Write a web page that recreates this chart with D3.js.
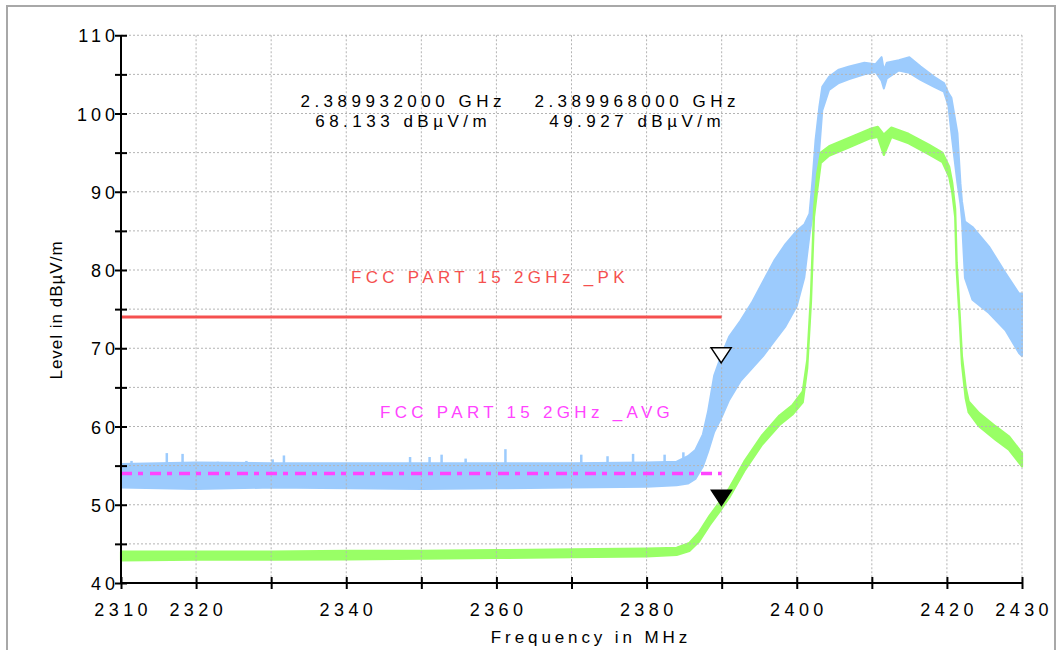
<!DOCTYPE html>
<html>
<head>
<meta charset="utf-8">
<script src="https://cdn.jsdelivr.net/npm/d3@7"></script>
<style>
  body { margin: 0; background: #fff; }
  text { font-family: "Liberation Sans", Arial, sans-serif; }
</style>
</head>
<body>
<div id="canvas"></div>
<script>
"use strict"

/* ---------- data ---------- */
// peak trace (blue) drawn as its noise envelope
let blueFreq = [2310, 2320, 2330, 2340, 2350, 2360, 2370, 2380, 2384, 2385.5,
  2386.5, 2387.5, 2388.2, 2389, 2390, 2391, 2392.5, 2394, 2395.5, 2397,
  2398.5, 2400, 2401, 2401.7, 2402.1, 2402.5, 2403, 2403.4, 2404.3, 2405.6,
  2407, 2409, 2410.5, 2411.3, 2411.6, 2412, 2413.6, 2415, 2416.5, 2418.3,
  2419.6, 2420.2, 2420.6, 2421.4, 2421.8, 2422, 2422.4, 2423.4, 2425.6, 2427.8,
  2429.6, 2430];
let blueHi = [55.2, 55.4, 55.3, 55.3, 55.3, 55.3, 55.3, 55.4, 55.5, 56.2,
  57.0, 59.0, 62.0, 66.5, 69.2, 71.5, 73.5, 75.8, 78.5, 81.2,
  83.3, 85.0, 85.8, 87.2, 91.5, 96.6, 100.8, 103.4, 104.7, 105.6,
  106.0, 106.5, 106.3, 107.2, 105.5, 106.5, 106.8, 107.2, 106.0, 104.7,
  103.9, 102.6, 102.0, 97.5, 91.1, 88.8, 86.2, 85.5, 83.0, 79.6,
  77.0, 77.0];
let blueLo = [52.2, 52.0, 52.2, 52.1, 52.0, 52.1, 52.2, 52.3, 52.5, 52.7,
  53.3, 54.9, 56.8, 59.3, 61.2, 63.4, 65.8, 67.4, 69.0, 70.9,
  72.8, 75.4, 79.0, 84.5, 87.0, 90.2, 95.3, 100.4, 103.0, 103.9,
  104.4, 105.0, 105.3, 104.2, 103.2, 104.5, 105.5, 105.2, 104.3, 103.4,
  102.8, 101.0, 97.5, 91.1, 88.5, 86.4, 79.0, 76.2, 74.5, 72.3,
  69.4, 69.0];

// single noise spikes above the blue floor
let spikeFreq = [2311.4, 2316.1, 2318.2, 2322.9, 2326.7, 2330.2, 2331.7, 2348.5, 2351.1, 2352.7,
  2355.9, 2361.2, 2371.3, 2374.8, 2378.2, 2382.4, 2384.9];
let spikeTop = [55.6, 56.6, 56.5, 55.5, 55.6, 55.8, 56.3, 56.1, 56.1, 56.4,
  55.9, 57.1, 56.4, 56.2, 56.5, 56.4, 56.7];

// average trace (green)
let greenFreq = [2310, 2320, 2330, 2340, 2350, 2360, 2370, 2380, 2384, 2385.7,
  2387, 2388.4, 2389.7, 2391, 2393, 2395.4, 2397.7, 2399.4, 2400.8, 2401.4,
  2401.9, 2402.3, 2402.7, 2403.2, 2404.3, 2407, 2409.7, 2410.8, 2411.6, 2412.6,
  2414.9, 2417.6, 2419.4, 2420.3, 2420.7, 2421.1, 2421.3, 2421.7, 2422.0, 2422.5,
  2422.9, 2424.3, 2426.5, 2428.3, 2430];
let greenLo = [42.9, 43.0, 43.0, 43.0, 43.1, 43.2, 43.3, 43.4, 43.6, 44.1,
  45.3, 47.4, 49.1, 50.9, 54.3, 57.7, 60.2, 61.5, 63.1, 67.5,
  76.0, 86.8, 90.0, 93.7, 94.6, 95.7, 96.8, 97.0, 94.7, 97.0,
  96.2, 94.8, 93.8, 91.9, 90.0, 86.8, 80.0, 73.6, 68.0, 63.6,
  61.8, 60.0, 58.3, 57.0, 54.9];
let greenHi = [44.0, 44.0, 44.0, 44.1, 44.1, 44.2, 44.3, 44.4, 44.5, 45.1,
  46.5, 48.6, 50.3, 52.1, 55.5, 58.9, 61.4, 62.7, 64.5, 68.5,
  77.0, 87.8, 92.2, 95.0, 95.8, 96.9, 98.0, 98.3, 97.3, 98.2,
  97.4, 96.0, 95.0, 93.2, 91.2, 87.8, 81.0, 74.4, 69.0, 65.0,
  63.2, 61.7, 60.0, 58.7, 56.6];

// limit lines
let limitNames = ["FCC PART 15 2GHz _PK", "FCC PART 15 2GHz _AVG"];
let limitLevels = [74, 54];
let limitRange = [2310, 2390];

// markers
let markerFreq = [2389.932, 2389.968];
let markerLevel = [68.133, 49.927];
let markerFreqText = ["2.389932000 GHz", "2.389968000 GHz"];
let markerLevelText = ["68.133 dBµV/m", "49.927 dBµV/m"];

// axes
let freqTicks = [2310, 2320, 2330, 2340, 2350, 2360, 2370, 2380, 2390, 2400, 2410, 2420, 2430];
let freqLabels = [2310, 2320, 2340, 2360, 2380, 2400, 2420, 2430];
let levelTicks = [40, 45, 50, 55, 60, 65, 70, 75, 80, 85, 90, 95, 100, 105, 110];
let levelLabels = [40, 50, 60, 70, 80, 90, 100, 110];

/* ---------- canvas ---------- */
let drawing = d3.select("#canvas")
  .append("svg")
  .attr("width", 1061)
  .attr("height", 650);

let frame = drawing.append("rect")
  .attr("x", 7).attr("y", 6)
  .attr("width", 1048).attr("height", 660)
  .attr("fill", "none")
  .attr("stroke", "#a8a8a8")
  .attr("stroke-width", 2);

let x = d3.scaleLinear().domain([2310, 2430]).range([121, 1022]);
let y = d3.scaleLinear().domain([40, 110]).range([583, 35.25]);

/* ---------- traces ---------- */
let blueBand = d3.area()
  .x((d, i) => x(blueFreq[i]))
  .y0((d, i) => y(blueLo[i]))
  .y1((d, i) => y(blueHi[i]));

drawing.append("path")
  .attr("d", blueBand(blueFreq))
  .attr("fill", "#9ccbfd")
  .attr("stroke", "#9ccbfd")
  .attr("stroke-width", 2)
  .attr("stroke-linejoin", "round");

drawing.append("g").selectAll("line")
  .data(spikeFreq)
  .join("line")
  .attr("x1", d => x(d)).attr("x2", d => x(d))
  .attr("y1", y(54.5))
  .attr("y2", (d, i) => y(spikeTop[i]))
  .attr("stroke", "#9ccbfd")
  .attr("stroke-width", 2.5);

let greenBand = d3.area()
  .x((d, i) => x(greenFreq[i]))
  .y0((d, i) => y(greenLo[i]))
  .y1((d, i) => y(greenHi[i]));

drawing.append("path")
  .attr("d", greenBand(greenFreq))
  .attr("fill", "#99ff66")
  .attr("stroke", "#99ff66")
  .attr("stroke-width", 2.2)
  .attr("stroke-linejoin", "round");

/* ---------- grid (drawn over the traces, like the original) ---------- */
let grid = drawing.append("g")
  .attr("stroke", "#b4b4b4")
  .attr("stroke-width", 1)
  .attr("stroke-dasharray", "2,2");

grid.selectAll(".vgrid")
  .data(freqTicks.slice(1))
  .join("line")
  .attr("x1", d => x(d)).attr("x2", d => x(d))
  .attr("y1", y(110)).attr("y2", y(40));

grid.selectAll(".hgrid")
  .data(levelTicks.slice(1))
  .join("line")
  .attr("x1", x(2310)).attr("x2", x(2430))
  .attr("y1", d => y(d)).attr("y2", d => y(d));

/* ---------- limit lines ---------- */
let limitColors = ["#f5504f", "#ff44ff"];

drawing.append("line")
  .attr("x1", x(limitRange[0])).attr("x2", x(limitRange[1]))
  .attr("y1", y(limitLevels[0])).attr("y2", y(limitLevels[0]))
  .attr("stroke", limitColors[0])
  .attr("stroke-width", 3);

drawing.append("line")
  .attr("x1", x(limitRange[0])).attr("x2", x(limitRange[1]))
  .attr("y1", y(limitLevels[1])).attr("y2", y(limitLevels[1]))
  .attr("stroke", limitColors[1])
  .attr("stroke-width", 3.5)
  .attr("stroke-dasharray", "11,6,5,7");

drawing.append("text")
  .attr("x", 351).attr("y", 283)
  .attr("font-size", 17)
  .style("letter-spacing", "4.3px")
  .attr("fill", limitColors[0])
  .text(limitNames[0]);

drawing.append("text")
  .attr("x", 380).attr("y", 418)
  .attr("font-size", 17)
  .style("letter-spacing", "4.3px")
  .attr("fill", limitColors[1])
  .text(limitNames[1]);

/* ---------- axes ---------- */
let xAxis = drawing.append("g")
  .attr("transform", "translate(0," + y(40) + ")")
  .call(d3.axisBottom(x).tickValues(freqTicks).tickSize(6).tickFormat(""));
xAxis.select(".domain").attr("stroke", "#000").attr("stroke-width", 2).attr("d", "M" + x(2310) + ",0H" + x(2430));
xAxis.selectAll(".tick line").attr("y1", -6).attr("y2", 6).attr("stroke", "#000").attr("stroke-width", 2);

let yAxis = drawing.append("g")
  .attr("transform", "translate(" + x(2310) + ",0)")
  .call(d3.axisLeft(y).tickValues(levelTicks).tickSize(6).tickFormat(""));
yAxis.select(".domain").attr("stroke", "#000").attr("stroke-width", 2).attr("d", "M0," + y(40) + "V" + y(110));
yAxis.selectAll(".tick line").attr("x1", -6).attr("x2", 6).attr("stroke", "#000").attr("stroke-width", 2);

drawing.append("g").selectAll("text")
  .data(freqLabels)
  .join("text")
  .attr("x", d => x(d) + 2.2)
  .attr("y", 616)
  .attr("text-anchor", "middle")
  .attr("font-size", 18)
  .style("letter-spacing", "4.4px")
  .attr("fill", "#000")
  .text(d => d);

drawing.append("g").selectAll("text")
  .data(levelLabels)
  .join("text")
  .attr("x", 115 + 4)
  .attr("y", d => y(d) + 7)
  .attr("text-anchor", "end")
  .attr("font-size", 18)
  .style("letter-spacing", "4px")
  .attr("fill", "#000")
  .text(d => d);

drawing.append("text")
  .attr("x", 589 + 2).attr("y", 643)
  .attr("text-anchor", "middle")
  .attr("font-size", 17)
  .style("letter-spacing", "3.9px")
  .attr("fill", "#000")
  .text("Frequency in MHz");

drawing.append("text")
  .attr("transform", "translate(62,310) rotate(-90)")
  .attr("text-anchor", "middle")
  .attr("font-size", 17)
  .style("letter-spacing", "1px")
  .attr("fill", "#000")
  .text("Level in dBµV/m");

/* ---------- markers ---------- */
let tri = (cx, cy) => "M" + (cx - 10) + "," + (cy - 15) + "H" + (cx + 10) + "L" + cx + "," + cy + "Z";

drawing.append("path")
  .attr("d", tri(x(markerFreq[0]), y(markerLevel[0])))
  .attr("fill", "#fff")
  .attr("stroke", "#000")
  .attr("stroke-width", 1.5);

drawing.append("path")
  .attr("d", tri(x(markerFreq[1]), y(markerLevel[1])))
  .attr("fill", "#000")
  .attr("stroke", "#000")
  .attr("stroke-width", 1.5);

let markerCols = [401, 635];
drawing.append("g").selectAll("text")
  .data(markerFreqText)
  .join("text")
  .attr("x", (d, i) => markerCols[i] + 2.2)
  .attr("y", 107)
  .attr("text-anchor", "middle")
  .attr("font-size", 17)
  .style("letter-spacing", "4.5px")
  .attr("fill", "#000")
  .text(d => d);

drawing.append("g").selectAll("text")
  .data(markerLevelText)
  .join("text")
  .attr("x", (d, i) => markerCols[i] + 2.2)
  .attr("y", 127)
  .attr("text-anchor", "middle")
  .attr("font-size", 17)
  .style("letter-spacing", "4.5px")
  .attr("fill", "#000")
  .text(d => d);
</script>
</body>
</html>
